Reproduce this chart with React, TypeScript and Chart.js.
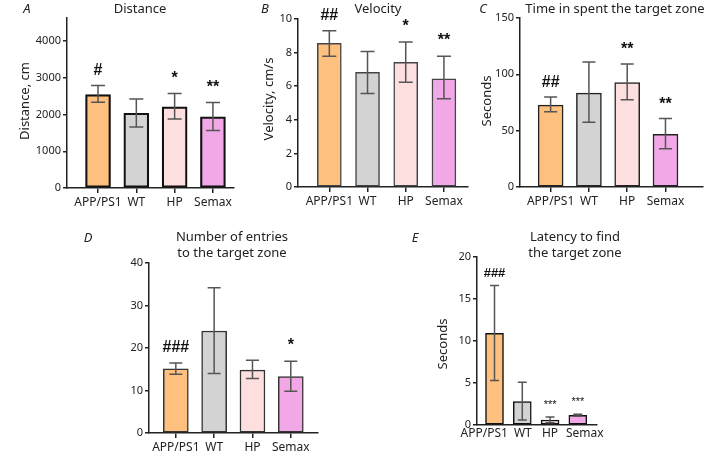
import React, { useEffect, useRef } from "react";
import { Chart, registerables } from "chart.js";

Chart.register(...registerables);

// ---------- data ----------
const categories = ["APP/PS1", "WT", "HP", "Semax"];
const barColors = ["#FDC07F", "#D3D3D3", "#FDDFDF", "#F2A8E6"];

const distanceMean = [2545, 2036, 2209, 1936];
const distanceLow = [2336, 1664, 1882, 1564];
const distanceHigh = [2790, 2427, 2573, 2327];
const distanceMarks = ["#", "", "*", "**"];
const distanceTicks = [0, 1000, 2000, 3000, 4000];

const velocityMean = [8.55, 6.82, 7.42, 6.44];
const velocityLow = [7.79, 5.57, 6.24, 5.25];
const velocityHigh = [9.3, 8.07, 8.63, 7.79];
const velocityMarks = ["##", "", "*", "**"];
const velocityTicks = [0, 2, 4, 6, 8, 10];

const timeMean = [72.6, 83.3, 92.6, 46.7];
const timeLow = [66.7, 57.4, 77.4, 33.9];
const timeHigh = [79.8, 111, 109.2, 60.7];
const timeMarks = ["##", "", "**", "**"];
const timeTicks = [0, 50, 100, 150];

const entriesMean = [15.1, 24.0, 14.8, 13.3];
const entriesLow = [13.8, 14.0, 12.8, 9.8];
const entriesHigh = [16.5, 34.2, 17.1, 16.9];
const entriesMarks = ["###", "", "", "*"];
const entriesTicks = [0, 10, 20, 30, 40];

const latencyMean = [10.9, 2.78, 0.6, 1.15];
const latencyLow = [5.3, 0.6, 0.28, 1.07];
const latencyHigh = [16.6, 5.08, 0.95, 1.27];
const latencyMarks = ["###", "", "***", "***"];
const latencyTicks = [0, 5, 10, 15, 20];

// ---------- layout / style ----------
const FONT = '"Noto Sans", sans-serif';
const TEXT = "#222";

const BIG = 'bold 16px "Liberation Sans", Arial, sans-serif';
const NO_SHIFT = [0, 0, 0, 0];

const panels = [
  {
    mean: distanceMean, low: distanceLow, high: distanceHigh, marks: distanceMarks, ticks: distanceTicks,
    left: 67, top: 18, right: 234, bottom: 188, yMax: 4630, xMin: -0.81, xMax: 3.55,
    bar: 25, cap: 14, border: "#111", borderWidth: 2.2, markGap: 11, markFonts: [BIG, BIG, BIG, BIG],
    xTickLen: 5, xPad: 2, labelShift: NO_SHIFT,
    title: ["Distance"], titleX: 140, titleY: [9], label: "A", labelX: 27, labelY: 9,
    yTitle: "Distance, cm", yTitleX: 25, yTitleY: 101,
  },
  {
    mean: velocityMean, low: velocityLow, high: velocityHigh, marks: velocityMarks, ticks: velocityTicks,
    left: 298, top: 19, right: 468, bottom: 187, yMax: 10, xMin: -0.82, xMax: 3.63,
    bar: 24, cap: 14, border: "#444", borderWidth: 1.5, markGap: 11, markFonts: [BIG, BIG, BIG, BIG],
    xTickLen: 5, xPad: 2, labelShift: NO_SHIFT,
    title: ["Velocity"], titleX: 378, titleY: [9], label: "B", labelX: 265, labelY: 9,
    yTitle: "Velocity, cm/s", yTitleX: 269, yTitleY: 99,
  },
  {
    mean: timeMean, low: timeLow, high: timeHigh, marks: timeMarks, ticks: timeTicks,
    left: 520, top: 18, right: 703, bottom: 187, yMax: 150, xMin: -0.8, xMax: 3.98,
    bar: 25, cap: 13, border: "#222", borderWidth: 1.5, markGap: 10, markFonts: [BIG, BIG, BIG, BIG],
    xTickLen: 5, xPad: 2, labelShift: NO_SHIFT,
    title: ["Time in spent the target zone"], titleX: 615, titleY: [9], label: "C", labelX: 483, labelY: 9,
    yTitle: "Seconds", yTitleX: 487, yTitleY: 101,
  },
  {
    mean: entriesMean, low: entriesLow, high: entriesHigh, marks: entriesMarks, ticks: entriesTicks,
    left: 149, top: 263, right: 318, bottom: 433, yMax: 40, xMin: -0.7, xMax: 3.71,
    bar: 25, cap: 13, border: "#333", borderWidth: 1.5, markGap: 11, markFonts: [BIG, BIG, BIG, BIG],
    xTickLen: 5, xPad: 2, labelShift: NO_SHIFT,
    title: ["Number of entries", "to the target zone"], titleX: 232, titleY: [237, 253], label: "D", labelX: 88, labelY: 238,
    yTitle: "", yTitleX: 0, yTitleY: 0,
  },
  {
    mean: latencyMean, low: latencyLow, high: latencyHigh, marks: latencyMarks, ticks: latencyTicks,
    left: 477, top: 257, right: 597, bottom: 425, yMax: 20, xMin: -0.63, xMax: 3.69,
    bar: 18, cap: 9, border: "#111", borderWidth: 1.5, markGap: 9,
    markFonts: ['bold 13px "Liberation Sans", Arial, sans-serif', "", '11px "Liberation Sans", Arial, sans-serif', '11px "Liberation Sans", Arial, sans-serif'],
    xTickLen: 0, xPad: 1, labelShift: [-0.37, 0.02, 0, 0.25],
    title: ["Latency to find", "the target zone"], titleX: 575, titleY: [237, 253], label: "E", labelX: 415, labelY: 238,
    yTitle: "Seconds", yTitleX: 443, yTitleY: 344,
  },
];

const W = 706;
const H = 463;
const Y_W = 40;
const X_H = 26;

function makeChart(canvas: HTMLCanvasElement, p: any) {
  const overlay = {
    id: "overlay",
    afterDatasetsDraw(chart: any) {
      const ctx = chart.ctx;
      const xs = chart.scales.x;
      const ys = chart.scales.y;
      ctx.save();
      ctx.strokeStyle = "#555";
      ctx.lineWidth = 1.5;
      p.low.forEach((lo: number, i: number) => {
        const x = xs.getPixelForValue(i);
        const y1 = ys.getPixelForValue(lo);
        const y2 = ys.getPixelForValue(p.high[i]);
        ctx.beginPath();
        ctx.moveTo(x, y1);
        ctx.lineTo(x, y2);
        ctx.moveTo(x - p.cap / 2, y1);
        ctx.lineTo(x + p.cap / 2, y1);
        ctx.moveTo(x - p.cap / 2, y2);
        ctx.lineTo(x + p.cap / 2, y2);
        ctx.stroke();
      });
      ctx.fillStyle = "#111";
      ctx.textAlign = "center";
      ctx.textBaseline = "alphabetic";
      p.marks.forEach((m: string, i: number) => {
        if (!m) return;
        ctx.font = p.markFonts[i];
        ctx.fillText(m, xs.getPixelForValue(i), ys.getPixelForValue(p.high[i]) - p.markGap);
      });
      ctx.fillStyle = TEXT;
      ctx.textBaseline = "middle";
      ctx.font = `13px ${FONT}`;
      p.title.forEach((t: string, k: number) => ctx.fillText(t, p.titleX, p.titleY[k]));
      ctx.font = `italic 13px ${FONT}`;
      ctx.fillText(p.label, p.labelX, p.labelY);
      if (p.yTitle) {
        ctx.save();
        ctx.translate(p.yTitleX, p.yTitleY);
        ctx.rotate(-Math.PI / 2);
        ctx.font = `13px ${FONT}`;
        ctx.fillText(p.yTitle, 0, 0);
        ctx.restore();
      }
      ctx.restore();
    },
  };

  return new Chart(canvas, {
    type: "bar",
    data: {
      datasets: [
        {
          data: p.mean.map((v: number, i: number) => ({ x: i, y: v })),
          backgroundColor: barColors,
          borderColor: p.border,
          borderWidth: p.borderWidth,
          borderSkipped: false,
          barThickness: p.bar,
        },
      ],
    },
    options: {
      animation: false,
      responsive: false,
      devicePixelRatio: 1,
      layout: {
        padding: { left: p.left - Y_W, top: p.top, right: W - p.right, bottom: H - p.bottom - X_H },
      },
      plugins: { legend: { display: false }, tooltip: { enabled: false }, title: { display: false } },
      scales: {
        x: {
          type: "linear",
          offset: false,
          min: p.xMin,
          max: p.xMax,
          afterBuildTicks: (s: any) => {
            s.ticks = categories.map((_, i) => ({ value: i + p.labelShift[i] }));
          },
          afterFit: (s: any) => {
            s.height = X_H;
          },
          ticks: {
            autoSkip: false,
            maxRotation: 0,
            padding: p.xPad,
            color: TEXT,
            font: { family: FONT, size: 12 },
            callback: (_v: any, idx: number) => categories[idx] ?? "",
          },
          grid: {
            display: true,
            offset: false,
            drawOnChartArea: false,
            drawTicks: p.xTickLen > 0,
            tickLength: p.xTickLen,
            color: "#222",
            lineWidth: 1.5,
          },
          border: { display: true, color: "#222", width: 1.5 },
        },
        y: {
          min: 0,
          max: p.yMax,
          afterBuildTicks: (s: any) => {
            s.ticks = p.ticks.map((v: number) => ({ value: v }));
          },
          afterFit: (s: any) => {
            s.width = Y_W;
          },
          ticks: {
            padding: 2,
            color: TEXT,
            font: { family: FONT, size: 11 },
            callback: (v: any) => String(v),
          },
          grid: { display: true, drawOnChartArea: false, drawTicks: true, tickLength: 4, color: "#222", lineWidth: 1.5 },
          border: { display: true, color: "#222", width: 1.5 },
        },
      },
    },
    plugins: [overlay],
  } as any);
}

function Panel({ p }: { p: any }) {
  const ref = useRef<HTMLCanvasElement>(null);
  useEffect(() => {
    const c = makeChart(ref.current as HTMLCanvasElement, p);
    return () => c.destroy();
  }, [p]);
  return (
    <canvas
      ref={ref}
      width={W}
      height={H}
      style={{ position: "absolute", left: 0, top: 0, width: W, height: H, display: "block" }}
    />
  );
}

export default function App() {
  return (
    <div style={{ position: "fixed", left: 0, top: 0, width: W, height: H, background: "#fff", overflow: "hidden" }}>
      {panels.map((p, i) => (
        <Panel key={i} p={p} />
      ))}
    </div>
  );
}
